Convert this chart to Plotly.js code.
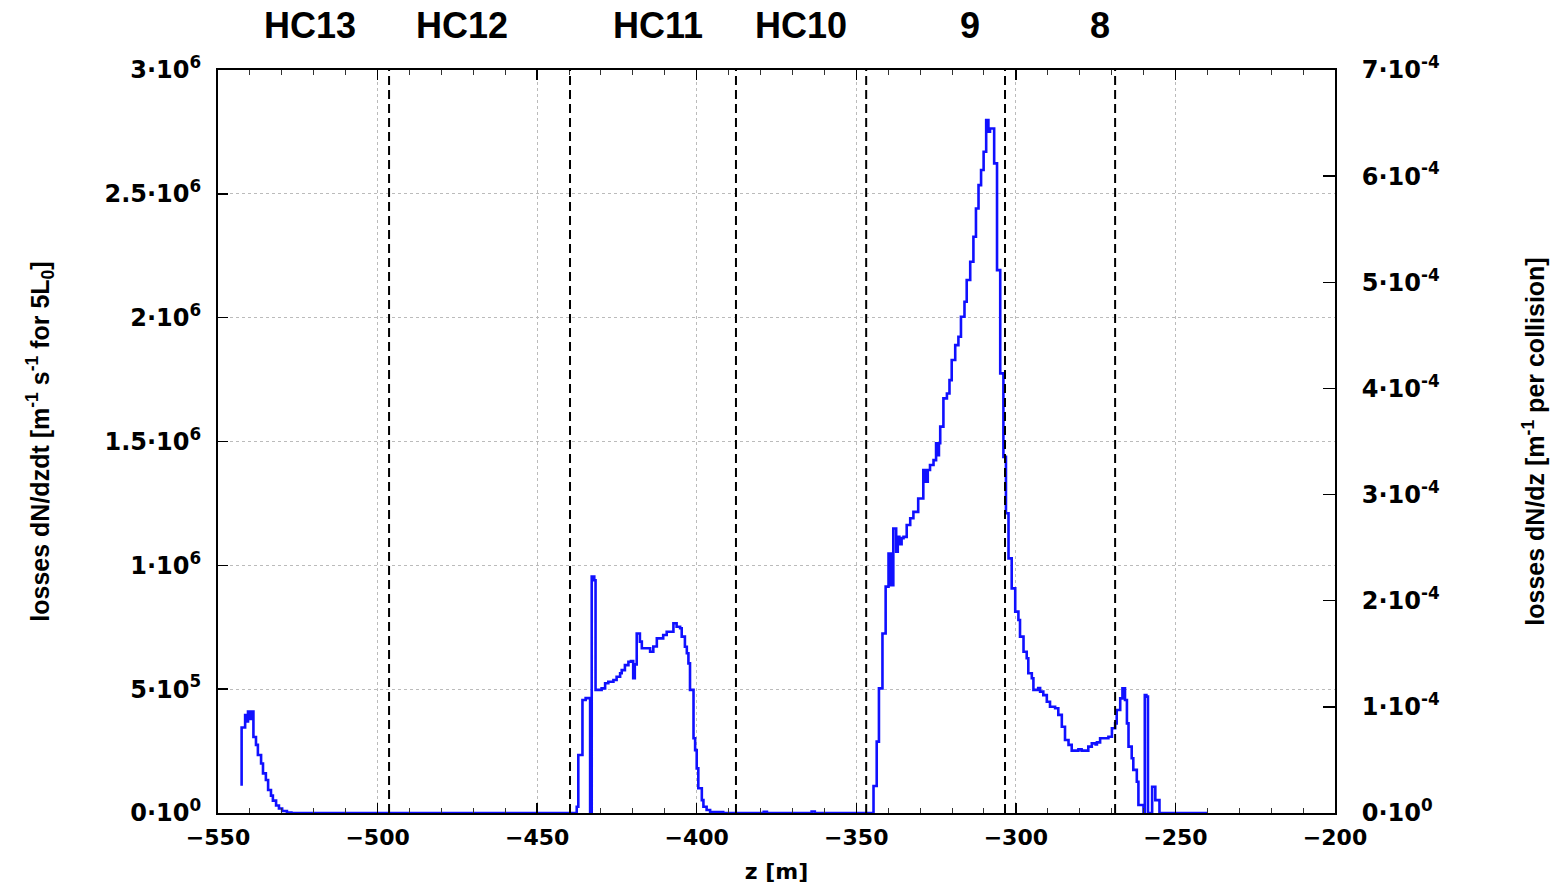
<!DOCTYPE html>
<html>
<head>
<meta charset="utf-8">
<script src="https://cdn.plot.ly/plotly-3.0.1.min.js"></script>
<style>html,body{margin:0;padding:0;background:#fff;}#chart{width:1568px;height:885px;}</style>
</head>
<body>
<div id="chart"></div>
<script>
// Histogram bin left edges (z in m) and loss rate values (m^-1 s^-1 for 5 L0)
const zEdges = [
  -543.0,-542.6,-541.5,-541.0,-540.6,-540.0,-539.6,-538.9,-538.1,-537.5,-536.5,-535.9,-535.0,-534.3,-533.4,-532.8,-531.8,-530.9,-529.9,-528.4,-527.0,
  -437.6,-437.1,-435.8,-434.8,-433.4,-432.9,-432.1,-431.7,-429.8,-428.7,-427.7,-426.1,-425.1,-424.0,-423.5,-422.5,-421.4,-420.6,-419.9,-419.4,-418.8,-417.8,-417.2,-415.5,-414.6,-413.6,-412.5,-411.5,-410.5,-409.4,-408.4,-407.3,-406.3,-405.2,-404.7,-403.7,-403.1,-402.6,-402.1,-401.0,-400.5,-400.0,-399.5,-398.4,-397.9,-396.9,-395.8,-391.7,
  -379.0,-378.0,-364.0,-363.0,
  -344.6,-343.6,-342.9,-341.8,-340.8,-339.9,-339.6,-339.2,-338.8,-338.4,-337.5,-337.0,-336.5,-335.8,-335.2,-334.2,-333.1,-332.1,-330.6,-329.0,-328.3,-327.6,-326.9,-325.8,-325.0,-324.5,-324.1,-323.7,-322.7,-321.6,-320.8,-320.1,-319.0,-318.0,-317.2,-316.1,-315.4,-314.3,-313.3,-312.5,-311.7,-310.9,-310.1,-309.3,-308.6,-308.1,-306.8,-305.9,-304.9,-303.9,-303.1,-302.3,-301.3,
  -300.2,-299.2,-298.7,-297.6,-296.6,-296.1,-295.0,-294.5,-293.0,-292.4,-291.4,-290.3,-289.3,-287.7,-286.7,-285.6,-284.6,-283.5,-282.5,-280.4,-279.4,-278.3,-277.3,-276.2,-275.0,-274.6,-273.6,-271.0,-269.9,-268.9,-268.4,-267.3,-266.6,-265.8,-265.2,-264.7,-263.7,-263.2,-262.1,-261.6,-260.0,-259.6,-259.1,-258.6,-257.3,-256.3,-255.0,-240.0
];
const lossRate = [
  115000,345000,395000,370000,410000,380000,410000,307000,275000,234000,200000,160000,133000,93000,70000,50000,30000,18000,8000,2000,0,
  25000,234000,456000,464000,0,955000,940000,497000,503000,524000,530000,537000,550000,564000,577000,597000,611000,614000,544000,600000,725000,692000,665000,665000,651000,672000,705000,705000,719000,732000,732000,766000,752000,746000,712000,671000,645000,604000,497000,302000,254000,180000,100000,52000,25000,12000,4000,0,
  5000,0,6000,0,
  109000,288000,503000,725000,914000,1048000,920000,1048000,920000,1149000,1055000,1115000,1085000,1110000,1115000,1163000,1190000,1216000,1270000,1385000,1338000,1385000,1405000,1425000,1493000,1445000,1493000,1560000,1674000,1694000,1748000,1829000,1889000,1923000,2004000,2064000,2152000,2226000,2327000,2441000,2535000,2596000,2670000,2798000,2751000,2764000,2623000,2192000,1775000,1438000,1210000,1028000,907000,
  813000,779000,712000,651000,625000,564000,544000,497000,505000,490000,476000,449000,429000,423000,396000,348000,295000,275000,252000,257000,252000,252000,268000,281000,277000,285000,302000,308000,342000,362000,416000,463000,503000,456000,362000,268000,221000,174000,126000,32000,0,476000,470000,0,106000,52000,0,0
];

// Conversion from loss rate to losses per collision (right axis scale)
const perCollisionScale = 7e-4 / 3e6;

// Section boundaries (dashed lines) and section labels
const boundaryZ = [-496.4, -439.7, -387.7, -346.9, -303.4, -268.9];
const sectionLabels = ['HC13', 'HC12', 'HC11', 'HC10', '9', '8'];
const sectionLabelZ = [-521.2, -473.5, -412.1, -367.3, -314.3, -273.6];

// Axis ticks
const xTicks = [-550, -500, -450, -400, -350, -300, -250, -200];
const yLeftTicks = [0, 500000, 1000000, 1500000, 2000000, 2500000, 3000000];
const yLeftTickText = ['0·10<sup>0</sup>', '5·10<sup>5</sup>', '1·10<sup>6</sup>', '1.5·10<sup>6</sup>', '2·10<sup>6</sup>', '2.5·10<sup>6</sup>', '3·10<sup>6</sup>'];
const yRightTicks = [0, 1e-4, 2e-4, 3e-4, 4e-4, 5e-4, 6e-4, 7e-4];
const yRightTickText = ['0·10<sup>0</sup>', '1·10<sup>-4</sup>', '2·10<sup>-4</sup>', '3·10<sup>-4</sup>', '4·10<sup>-4</sup>', '5·10<sup>-4</sup>', '6·10<sup>-4</sup>', '7·10<sup>-4</sup>'];

const FONT = 'Liberation Sans, Arial, Helvetica, sans-serif';
const TICKFONT = 'DejaVu Sans, Verdana, sans-serif';

const traces = [{
  x: zEdges, y: lossRate, type: 'scatter', mode: 'lines',
  line: {shape: 'hv', color: '#1010ff', width: 2.6},
  hoverinfo: 'skip', showlegend: false
}, {
  x: zEdges, y: lossRate.map(v => v * perCollisionScale), yaxis: 'y2',
  type: 'scatter', mode: 'lines', line: {shape: 'hv', color: 'rgba(0,0,0,0)', width: 0},
  hoverinfo: 'skip', showlegend: false
}];

const shapes = boundaryZ.map(z => ({
  type: 'line', xref: 'x', yref: 'paper', x0: z, x1: z, y0: 0, y1: 1,
  line: {color: '#000', width: 2, dash: '9px,5px'}, layer: 'above'
}));

const annotations = sectionLabels.map((t, i) => ({
  text: t, x: sectionLabelZ[i], xref: 'x', y: 1.06, yref: 'paper',
  xanchor: 'center', yanchor: 'middle', showarrow: false,
  font: {family: FONT, size: 36, color: '#000', weight: 'bold'}
}));

const layout = {
  width: 1568, height: 885,
  margin: {l: 218, r: 233, t: 70, b: 72},
  paper_bgcolor: '#fff', plot_bgcolor: '#fff',
  font: {family: FONT, color: '#000'},
  showlegend: false,
  xaxis: {
    range: [-550, -200], tickmode: 'array', tickvals: xTicks,
    ticks: 'inside', ticklen: 10, tickwidth: 1.5, tickcolor: '#000',
    minor: {dtick: 10, tick0: -550, ticks: 'inside', ticklen: 5, tickwidth: 1, tickcolor: '#333', showgrid: false},
    showline: true, linecolor: '#000', linewidth: 2, mirror: 'ticks',
    showgrid: true, gridcolor: '#bbbbbb', griddash: 'dot', gridwidth: 1,
    zeroline: false, ticklabelstandoff: 4,
    tickfont: {family: TICKFONT, size: 22, weight: 'bold'},
    title: {text: 'z [m]', font: {family: TICKFONT, size: 22, weight: 'bold'}, standoff: 14}
  },
  yaxis: {
    range: [0, 3000000], tickmode: 'array', tickvals: yLeftTicks, ticktext: yLeftTickText,
    ticks: 'inside', ticklen: 10, tickwidth: 1.5, tickcolor: '#000',
    showline: true, linecolor: '#000', linewidth: 2,
    showgrid: true, gridcolor: '#bbbbbb', griddash: 'dot', gridwidth: 1,
    zeroline: false, ticklabelstandoff: 10,
    tickfont: {family: TICKFONT, size: 24, weight: 'bold'},
    title: {text: 'losses dN/dzdt [m<sup>-1</sup> s<sup>-1</sup> for 5L<sub>0</sub>]', font: {family: FONT, size: 25, weight: 'bold'}, standoff: 48}
  },
  yaxis2: {
    overlaying: 'y', side: 'right', anchor: 'x',
    range: [0, 7e-4], tickmode: 'array', tickvals: yRightTicks, ticktext: yRightTickText,
    ticks: 'inside', ticklen: 12, tickwidth: 1.5, tickcolor: '#000',
    showline: true, linecolor: '#000', linewidth: 2,
    showgrid: false, zeroline: false, ticklabelstandoff: 20,
    tickfont: {family: TICKFONT, size: 24, weight: 'bold'},
    title: {text: 'losses dN/dz [m<sup>-1</sup> per collision]', font: {family: FONT, size: 25, weight: 'bold'}, standoff: 88}
  },
  shapes: shapes,
  annotations: annotations
};

Plotly.newPlot('chart', traces, layout, {staticPlot: true, displayModeBar: false});
</script>
</body>
</html>
